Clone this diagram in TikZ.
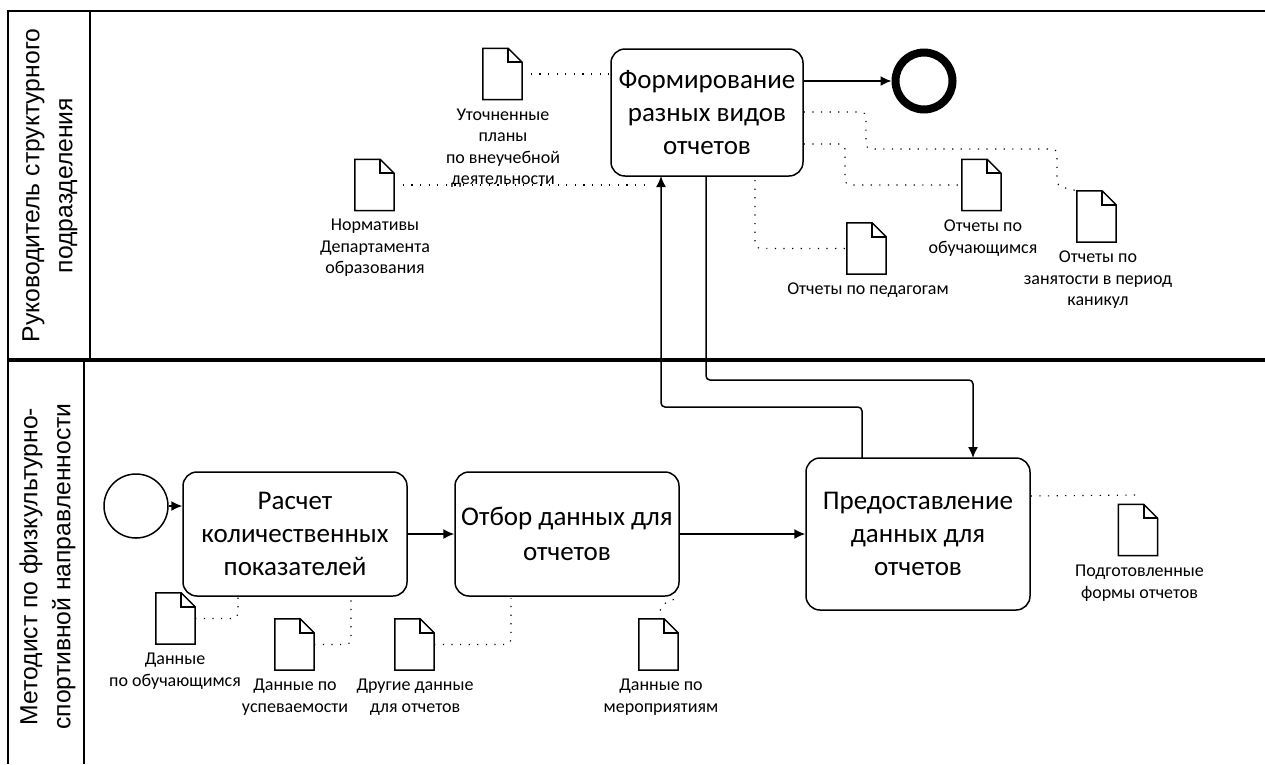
\documentclass[tikz,border=0pt]{standalone}
\usepackage{fontspec}
\setmainfont{Carlito}
\newfontfamily\lanefont{Liberation Sans}
\usetikzlibrary{arrows.meta}
\tikzset{
  x=1pt,y=-1pt,
  task/.style={draw,line width=1.5pt,rounded corners=14pt,inner sep=0pt,align=center,font=\fontsize{27}{33}\selectfont},
  flow/.style={line width=1.5pt,-{Latex[length=11pt,width=10pt]}},
  assoc/.style={line width=1.1pt,dash pattern=on 1.2pt off 7.4pt,rounded corners=5pt},
  lane/.style={line width=2pt},
  lanehead/.style={rotate=90,align=center,font=\lanefont\fontsize{24.7}{33}\selectfont},
  doc/.style={minimum width=39pt,minimum height=51pt,inner sep=0pt},
  docdraw/.style={line width=1.5pt,line join=miter},
  doclabel/.style={align=center,inner sep=0pt,font=\fontsize{18}{21.5}\selectfont},
}
\newcommand{\docshape}[1]{%
  \draw[docdraw] (#1.north west) -- ([xshift=-14pt]#1.north east) -- ([yshift=-14pt]#1.north east) -- (#1.south east) -- (#1.south west) -- cycle;
  \draw[docdraw,line width=2pt] ([xshift=-14pt]#1.north east) -- ([xshift=-14pt,yshift=-14pt]#1.north east) -- ([yshift=-14pt]#1.north east);
}
\begin{document}
\begin{tikzpicture}
\useasboundingbox (0,0) rectangle (1265,764);
% lanes
\coordinate (t0) at (8,11); \coordinate (t1) at (1265,11);
\coordinate (m0) at (8,360); \coordinate (m1) at (1265,360);
\coordinate (b0) at (8,764);
\draw[lane] (t1) -- (t0) -- (b0);
\draw[line width=3.2pt] (m0) -- (m1);
\draw[lane] (90,11) -- (90,360);
\draw[lane] (84,360) -- (84,764);
\node[lanehead] (h1) at (50,185.5) {Руководитель структурного\\подразделения};
\node[lanehead] (h2) at (47.5,566.5) {Методист по физкультурно-\\спортивной направленности};
% tasks
\node[task,minimum width=192pt,minimum height=127pt] (form) at (707,112.5) {Формирование\\разных видов\\отчетов};
\node[task,minimum width=224pt,minimum height=124pt] (calc) at (295,534) {Расчет\\количественных\\показателей};
\node[task,minimum width=224pt,minimum height=124pt] (sel) at (567,534) {Отбор данных для\\[2pt]отчетов};
\node[task,minimum width=224pt,minimum height=152pt] (prov) at (918,534) {Предоставление\\данных для\\отчетов};
% events
\node[draw,circle,line width=8pt,minimum size=57pt,inner sep=0pt] (end) at (924,81) {};
\node[draw,circle,line width=1.5pt,minimum size=64pt,inner sep=0pt] (start) at (136,506) {};
% documents
\node[doc] (d1) at (502.5,74) {};
\node[doc] (d2) at (374.5,185) {};
\node[doc] (d3) at (866.5,248.5) {};
\node[doc] (d4) at (981.5,185) {};
\node[doc] (d5) at (1096.5,216.5) {};
\node[doc] (d6) at (175.5,618.5) {};
\node[doc] (d7) at (294.5,644.5) {};
\node[doc] (d8) at (414.5,644.5) {};
\node[doc] (d9) at (658.5,644.5) {};
\node[doc] (d10) at (1138,530) {};
\foreach \n in {d1,d2,d3,d4,d5,d6,d7,d8,d9,d10} {\docshape{\n}}
% labels
\node[doclabel] (l1) at (503,148) {Уточненные\\планы\\по внеучебной\\деятельности};
\node[doclabel] (l2) at (375,248) {Нормативы\\Департамента\\образования};
\node[doclabel] (l3) at (868,290) {Отчеты по педагогам};
\node[doclabel] (l4) at (983,238) {Отчеты по\\обучающимся};
\node[doclabel] (l5) at (1098,280) {Отчеты по\\занятости в период\\каникул};
\node[doclabel] (l6) at (175,671) {Данные\\по обучающимся};
\node[doclabel] (l7) at (295,697) {Данные по\\успеваемости};
\node[doclabel] (l8) at (415,697) {Другие данные\\для отчетов};
\node[doclabel] (l9) at (661,697) {Данные по\\мероприятиям};
\node[doclabel] (l10) at (1139.5,583) {Подготовленные\\формы отчетов};
% flows
\draw[flow] (form.east |- end) -- (end.west);
\draw[flow] (start.east) -- (calc.west |- start);
\draw[flow] (calc.east) -- (sel.west);
\draw[flow] (sel.east) -- (prov.west);
\coordinate (fa) at (661,176); \coordinate (pa) at (862,458);
\draw[flow,rounded corners=4pt] (pa) -- (862,407) -- (661,407) -- (fa);
\coordinate (fb) at (706,176); \coordinate (pb) at (973,458);
\draw[flow,rounded corners=4pt] (fb) -- (706,380) -- (973,380) -- (pb);
% associations
\coordinate (a2) at (652,185);
\coordinate (a3) at (755,180);
\coordinate (a9) at (677,598);
\coordinate (a10) at (1138,495);
\draw[assoc] (d1.east) -- (form.west |- d1);
\draw[assoc] (d2.east) -- (a2);
\draw[assoc] (a3) -- (755,248.5) -- (d3.west);
\draw[assoc] (form.east |- 0,144) -- (845,144) -- (845,185) -- (d4.west);
\draw[assoc] (form.east |- 0,112) -- (866,112) -- (866,149) -- (1057,149) -- (1057,186) -- (d5.north west);
\draw[assoc] (d6.east) -- (238,618.5) -- (calc.south -| 238,0);
\draw[assoc] (d7.east) -- (351,644.5) -- (calc.south -| 351,0);
\draw[assoc] (d8.east) -- (511,644.5) -- (511,598);
\draw[assoc] (659,619) -- (661,605) -- (a9);
\draw[assoc] (prov.east |- 0,496) -- (a10);
\end{tikzpicture}
\end{document}
